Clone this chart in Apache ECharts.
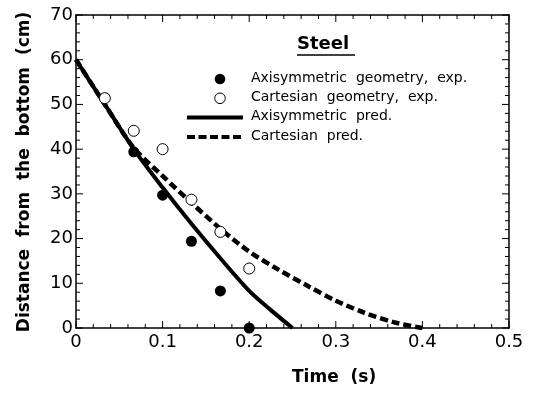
<!DOCTYPE html>
<html>
<head>
<meta charset="utf-8">
<script src="https://cdn.jsdelivr.net/npm/echarts@6/dist/echarts.min.js"></script>
<style>
  html, body { margin: 0; padding: 0; background: #fff; }
  #chart { width: 535px; height: 393px; }
</style>
</head>
<body>
<div id="chart"></div>
<script>
// Steel: measured drop distance vs. time, with model predictions
const axiExpTime  = [0.0667, 0.1, 0.1333, 0.1667, 0.2];
const axiExpDist  = [39.4, 29.7, 19.4, 8.3, 0];

const cartExpTime = [0.0333, 0.0667, 0.1, 0.1333, 0.1667, 0.2];
const cartExpDist = [51.4, 44.1, 40.0, 28.7, 21.5, 13.3];

const axiPredTime = [0, 0.0333, 0.0667, 0.1, 0.1333, 0.1667, 0.2, 0.225, 0.25];
const axiPredDist = [60, 50.0, 40.0, 31.4, 23.3, 15.6, 8.3, 4.0, 0];

const cartPredTime = [0, 0.0333, 0.0667, 0.1, 0.1333, 0.1667, 0.2, 0.2333, 0.2667, 0.3, 0.3333, 0.3667, 0.4];
const cartPredDist = [60, 50.0, 40.3, 34.0, 28.0, 22.2, 17.1, 13.1, 9.5, 6.1, 3.4, 1.3, 0];

const xTicks = [0, 0.1, 0.2, 0.3, 0.4, 0.5];
const yTicks = [0, 10, 20, 30, 40, 50, 60, 70];
const minorPerMajor = 5;

const legendTitle = 'Steel';
const legendNames = [
  'Axisymmetric  geometry,  exp.',
  'Cartesian  geometry,  exp.',
  'Axisymmetric  pred.',
  'Cartesian  pred.'
];
const xTitle = 'Time  (s)';
const yTitle = 'Distance  from  the  bottom  (cm)';

const zip = (xs, ys) => xs.map((x, i) => [x, ys[i]]);

const FONT = 'DejaVu Sans';
const INK = '#000';

const X_MIN = xTicks[0], X_MAX = xTicks[xTicks.length - 1];
const Y_MIN = yTicks[0], Y_MAX = yTicks[yTicks.length - 1];

// inward tick marks on all four sides of the frame: [side (0 = x, 1 = y), value, length]
const MAJOR_LEN = 7, MINOR_LEN = 4;
function frameTicks(ticks, side) {
  const out = [];
  for (let i = 0; i < ticks.length; i++) {
    out.push([side, ticks[i], MAJOR_LEN]);
    if (i < ticks.length - 1) {
      const step = (ticks[i + 1] - ticks[i]) / minorPerMajor;
      for (let k = 1; k < minorPerMajor; k++) out.push([side, ticks[i] + k * step, MINOR_LEN]);
    }
  }
  return out;
}
const tickData = frameTicks(xTicks, 0).concat(frameTicks(yTicks, 1));

function renderTick(params, api) {
  const side = api.value(0), v = api.value(1), len = api.value(2);
  const style = { stroke: INK, lineWidth: 1 };
  if (side === 0) {
    const b = api.coord([v, Y_MIN]), t = api.coord([v, Y_MAX]);
    return { type: 'group', children: [
      { type: 'line', shape: { x1: b[0], y1: b[1], x2: b[0], y2: b[1] - len }, style: style },
      { type: 'line', shape: { x1: t[0], y1: t[1], x2: t[0], y2: t[1] + len }, style: style }
    ] };
  }
  const l = api.coord([X_MIN, v]), r = api.coord([X_MAX, v]);
  return { type: 'group', children: [
    { type: 'line', shape: { x1: l[0], y1: l[1], x2: l[0] + len, y2: l[1] }, style: style },
    { type: 'line', shape: { x1: r[0], y1: r[1], x2: r[0] - len, y2: r[1] }, style: style }
  ] };
}

const frameLine = { show: true, onZero: false, lineStyle: { color: INK, width: 1.5 } };
const noTicks = { axisTick: { show: false }, minorTick: { show: false }, splitLine: { show: false } };

const xAxes = [
  Object.assign({
    type: 'value', position: 'bottom', min: X_MIN, max: X_MAX, interval: 0.1,
    axisLine: frameLine,
    axisLabel: { color: INK, fontFamily: FONT, fontSize: 18, margin: 5, formatter: v => String(+v.toFixed(1)) }
  }, noTicks),
  Object.assign({
    type: 'value', position: 'top', min: X_MIN, max: X_MAX, interval: 0.1,
    axisLine: frameLine, axisLabel: { show: false }
  }, noTicks)
];
const yAxes = [
  Object.assign({
    type: 'value', position: 'left', min: Y_MIN, max: Y_MAX, interval: 10,
    axisLine: frameLine,
    axisLabel: { color: INK, fontFamily: FONT, fontSize: 18, margin: 3 }
  }, noTicks),
  Object.assign({
    type: 'value', position: 'right', min: Y_MIN, max: Y_MAX, interval: 10,
    axisLine: frameLine, axisLabel: { show: false }
  }, noTicks)
];

// legend block drawn as graphics
const LX = 220, LT = 79, LS = 19.3;
const legendGraphics = [
  { type: 'text', left: 297, top: 35, style: { text: legendTitle, fill: INK, font: 'bold 18px "DejaVu Sans"' } },
  { type: 'line', shape: { x1: 297, y1: 55, x2: 355, y2: 55 }, style: { stroke: INK, lineWidth: 1.5 } },
  { type: 'circle', shape: { cx: LX, cy: LT, r: 5.3 }, style: { fill: INK } },
  { type: 'circle', shape: { cx: LX, cy: LT + LS, r: 5.3 }, style: { fill: '#fff', stroke: INK, lineWidth: 1 } },
  { type: 'line', shape: { x1: 187, y1: LT + 2 * LS, x2: 243, y2: LT + 2 * LS }, style: { stroke: INK, lineWidth: 4 } },
  { type: 'line', shape: { x1: 187, y1: LT + 3 * LS, x2: 243, y2: LT + 3 * LS }, style: { stroke: INK, lineWidth: 4, lineDash: [8, 3.5] } }
];
legendNames.forEach((name, i) => {
  legendGraphics.push({
    type: 'text', left: 251, top: LT + i * LS - 8,
    style: { text: name, fill: INK, font: '14px "DejaVu Sans"' }
  });
});

const titleGraphics = [
  { type: 'text', left: 292, top: 369, style: { text: xTitle, fill: INK, font: 'bold 17px "DejaVu Sans"', textAlign: 'center' } },
  { type: 'text', x: 25, y: 172, rotation: Math.PI / 2, style: { text: yTitle, fill: INK, font: 'bold 17px "DejaVu Sans"', textAlign: 'center', textVerticalAlign: 'middle' } }
];

const chart = echarts.init(document.getElementById('chart'), null, { renderer: 'canvas' });
chart.setOption({
  animation: false,
  backgroundColor: '#fff',
  grid: { left: 76, right: 26, top: 15, bottom: 65, containLabel: false },
  xAxis: xAxes,
  yAxis: yAxes,
  series: [
    {
      type: 'custom', name: 'frame ticks', coordinateSystem: 'cartesian2d',
      xAxisIndex: 0, yAxisIndex: 0, data: tickData, renderItem: renderTick,
      clip: false, silent: true, z: 1
    },
    {
      name: legendNames[2], type: 'line', data: zip(axiPredTime, axiPredDist),
      showSymbol: false, smooth: 0.3,
      lineStyle: { color: INK, width: 4 }, z: 2
    },
    {
      name: legendNames[3], type: 'line', data: zip(cartPredTime, cartPredDist),
      showSymbol: false, smooth: 0.3,
      lineStyle: { color: INK, width: 4.5, type: [8, 4] }, z: 2
    },
    {
      name: legendNames[1], type: 'scatter', data: zip(cartExpTime, cartExpDist),
      symbol: 'circle', symbolSize: 11,
      itemStyle: { color: '#fff', borderColor: INK, borderWidth: 1, opacity: 1 }, z: 3
    },
    {
      name: legendNames[0], type: 'scatter', data: zip(axiExpTime, axiExpDist),
      symbol: 'circle', symbolSize: 11,
      itemStyle: { color: INK, opacity: 1 }, z: 4
    }
  ],
  graphic: legendGraphics.concat(titleGraphics)
});
</script>
</body>
</html>
